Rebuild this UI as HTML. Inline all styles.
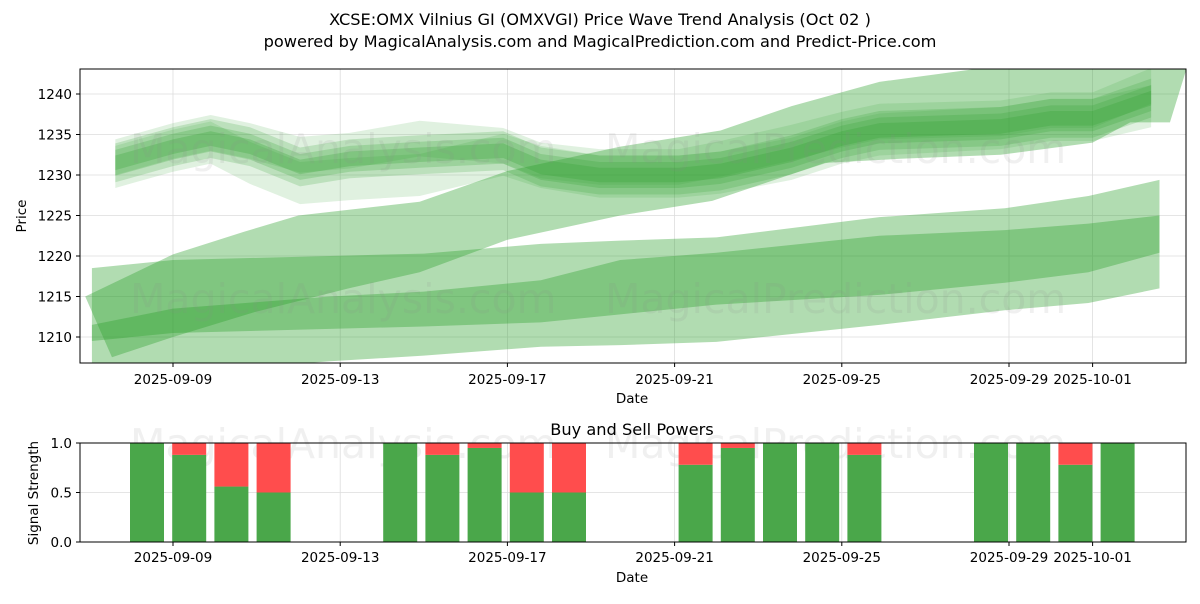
<!DOCTYPE html>
<html><head><meta charset="utf-8"><style>
body{margin:0;background:#fff;font-family:"DejaVu Sans","Liberation Sans",sans-serif;}
svg text{font-family:"DejaVu Sans","Liberation Sans",sans-serif;}
</style></head><body>
<svg id="c" width="1200" height="600" xmlns="http://www.w3.org/2000/svg">
<rect width="1200" height="600" fill="#fff"/>
<text x="600" y="25" text-anchor="middle" font-size="16.2">XCSE:OMX Vilnius GI (OMXVGI) Price Wave Trend Analysis (Oct 02 )</text>
<text x="600" y="47" text-anchor="middle" font-size="16.2">powered by MagicalAnalysis.com and MagicalPrediction.com and Predict-Price.com</text>
<defs><clipPath id="cp1"><rect x="80" y="69" width="1106" height="294"/></clipPath></defs>
<g id="grid1"></g>
<g id="marks1" clip-path="url(#cp1)"></g>
<g id="wm" fill="#888" fill-opacity="0.13" font-size="41">
<text x="130" y="163">MagicalAnalysis.com</text>
<text x="605" y="163">MagicalPrediction.com</text>
<text x="130" y="313">MagicalAnalysis.com</text>
<text x="605" y="313">MagicalPrediction.com</text>
<text x="130" y="458">MagicalAnalysis.com</text>
<text x="605" y="458">MagicalPrediction.com</text>
</g>
<rect x="80" y="69" width="1106" height="294" fill="none" stroke="#000" stroke-width="1"/>
<text x="632" y="403" text-anchor="middle" font-size="13.5">Date</text>
<text transform="translate(26,216) rotate(-90)" text-anchor="middle" font-size="13.5">Price</text>
<text x="632" y="435" text-anchor="middle" font-size="16.2">Buy and Sell Powers</text>
<g id="grid2"></g>
<g id="marks2"></g>
<rect x="80" y="443" width="1106" height="99" fill="none" stroke="#000" stroke-width="1"/>
<text x="632" y="582" text-anchor="middle" font-size="13.5">Date</text>
<text transform="translate(38,493) rotate(-90)" text-anchor="middle" font-size="13.5">Signal Strength</text>
</svg>
<script>
// ---- data ----
const xTickLabels = ["2025-09-09","2025-09-13","2025-09-17","2025-09-21","2025-09-25","2025-09-29","2025-10-01"];
const xTickDays = [0,4,8,12,16,20,22];
const yTicks = [1210,1215,1220,1225,1230,1235,1240];
const sTicks = [0,0.5,1];
const sTickLabels = ["0.0","0.5","1.0"];
const bandPDays = [-1.94,0,3.76,6,8.8,10.7,13,16.9,19.9,21.9,23.6];
const bandPTop = [1218.5,1219.5,1220,1220.3,1221.5,1221.9,1222.3,1224.8,1225.9,1227.4,1229.4];
const bandPBot = [1209.5,1210.5,1211,1211.3,1211.8,1212.8,1214,1215.2,1216.7,1218,1220.4];
const bandQTop = [1211.5,1213.5,1215,1215.6,1217,1219.5,1220.4,1222.5,1223.2,1224,1225];
const bandQBot = [1203,1205.5,1207,1207.7,1208.8,1209,1209.4,1211.5,1213.3,1214.2,1216];
const bandRTopDays = [-2.1,0,1.7,3,5.9,8,10.7,13.1,14.8,16.9,19.8,24.3];
const bandRTop = [1215,1220.2,1223,1225,1226.7,1230.5,1233.5,1235.5,1238.5,1241.5,1243.5,1244];
const bandRBotDays = [-1.46,0,1.9,4.2,5.9,8,10.7,12.9,15.6,17.4,19.8,22,22.9,23.85];
const bandRBot = [1207.5,1210,1213,1216,1218,1222,1225,1226.8,1231.5,1232,1232.5,1234,1236.5,1236.5];
const waveDays = [-1.38,0,0.9,1.84,3.04,4.23,5.9,7.9,8.8,10.2,12.1,13.1,14.8,16,16.9,19.8,21,22,23.4];
const waveMain = [1231.5,1233.5,1234.5,1233.5,1231,1232,1232.5,1233,1231,1230,1230,1230.5,1232.5,1234.5,1235.5,1236,1237,1237,1239.5];
const waveLow = [1231,1233,1234,1231.5,1229,1229.5,1230,1232.5,1231,1229.8,1229.8,1230.3,1232,1234,1235,1235.8,1236.8,1236.8,1238.5];
const waveHigh = [1232.2,1234.2,1235.2,1234.2,1232.5,1233,1234.5,1233.6,1231.8,1231,1231,1232,1234,1235.6,1236.6,1237,1238,1238,1241];
const barDays = [0,1,2,3,6,7,8,9,10,13,14,15,16,17,20,21,22,23];
const buyPower = [1,0.88,0.56,0.5,1,0.88,0.95,0.5,0.5,0.78,0.95,1,1,0.88,1,1,0.78,1];

// ---- axes ----
const X = d => 173 + 41.8*d;
const Y = p => 94 - (p-1240)*8.1;
const XB = d => 147 + 42.2*d;
const YS = v => 542 - v*99;
const NS = "http://www.w3.org/2000/svg";
function mk(tag, attrs, parent){const e=document.createElementNS(NS,tag);for(const k in attrs)e.setAttribute(k,attrs[k]);document.getElementById(parent).appendChild(e);return e;}

xTickDays.forEach((d,i)=>{
  const l=mk('line',{x1:X(d),x2:X(d),y1:69,y2:363,stroke:'#ddd','stroke-width':0.8},'grid1');
  
  
  mk('line',{x1:X(d),x2:X(d),y1:363,y2:367,stroke:'#000'},'grid1');
  const t=mk('text',{x:X(d),y:384,'text-anchor':'middle','font-size':13.5},'grid1');t.textContent=xTickLabels[i];
  
  
  mk('line',{x1:X(d),x2:X(d),y1:443,y2:542,stroke:'#ddd','stroke-width':0.8},'grid2');
  mk('line',{x1:X(d),x2:X(d),y1:542,y2:546,stroke:'#000'},'grid2');
  const t2=mk('text',{x:X(d),y:562,'text-anchor':'middle','font-size':13.5},'grid2');t2.textContent=xTickLabels[i];
  
  
});
yTicks.forEach(p=>{
  mk('line',{x1:80,x2:1186,y1:Y(p),y2:Y(p),stroke:'#ddd','stroke-width':0.8},'grid1');
  mk('line',{x1:76,x2:80,y1:Y(p),y2:Y(p),stroke:'#000'},'grid1');
  const t=mk('text',{x:72,y:Y(p)+5,'text-anchor':'end','font-size':13.5},'grid1');t.textContent=p;
  
  
});
sTicks.forEach((v,i)=>{
  mk('line',{x1:80,x2:1186,y1:YS(v),y2:YS(v),stroke:'#ddd','stroke-width':0.8},'grid2');
  mk('line',{x1:76,x2:80,y1:YS(v),y2:YS(v),stroke:'#000'},'grid2');
  const t=mk('text',{x:72,y:YS(v)+5,'text-anchor':'end','font-size':13.5},'grid2');t.textContent=sTickLabels[i];
  
  
});

function band(topD, top, botD, bot, alpha, name){
  let pts=topD.map((d,i)=>X(d)+','+Y(top[i]));
  for(let i=botD.length-1;i>=0;i--) pts.push(X(botD[i])+','+Y(bot[i]));
  const p=mk('polygon',{points:pts.join(' '),fill:'#2ca02c','fill-opacity':alpha},'marks1');
  
  
}
band(bandRTopDays,bandRTop,bandRBotDays,bandRBot,0.37,'forecast-band-wide');
band(bandPDays,bandPTop,bandPDays,bandPBot,0.37,'forecast-band-upper');
band(bandPDays,bandQTop,bandPDays,bandQBot,0.37,'forecast-band-lower');
function wave(arr, hw, alpha, name){
  band(waveDays, arr.map(v=>v+hw), waveDays, arr.map(v=>v-hw), alpha, name);
}
wave(waveLow,2.6,0.15,'wave-band-low');
wave(waveHigh,2.2,0.15,'wave-band-high');
wave(waveMain,2.4,0.2,'wave-band-outer');
wave(waveMain,1.6,0.22,'wave-band-mid');
wave(waveMain,0.9,0.25,'wave-band-core');

barDays.forEach((d,i)=>{
  const b=buyPower[i], x=XB(d)-17;
  const g=mk('rect',{x:x,y:YS(b),width:34,height:YS(0)-YS(b),fill:'#4aa74a'},'marks2');
  
  
  if(b<1){
    const r=mk('rect',{x:x,y:YS(1),width:34,height:YS(b)-YS(1),fill:'#ff4d4d'},'marks2');
    
    
  }
});
</script>
</body></html>
